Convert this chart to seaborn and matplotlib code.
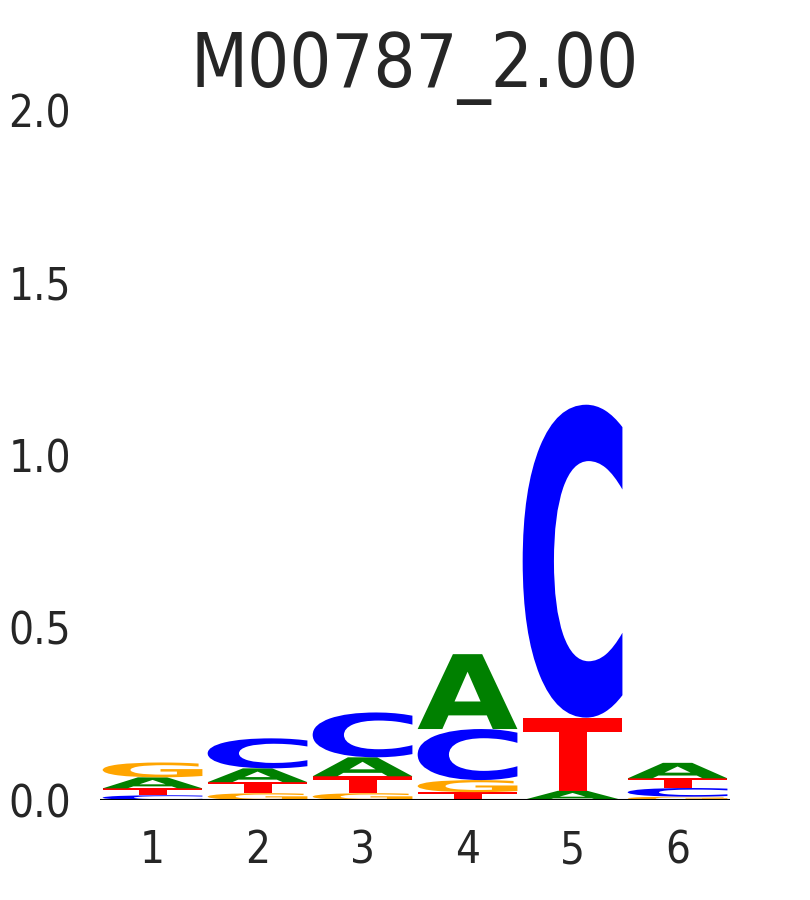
import numpy as np
import seaborn as sns
import matplotlib.pyplot as plt
from matplotlib.textpath import TextPath
from matplotlib.patches import PathPatch
from matplotlib.font_manager import FontProperties
import matplotlib.transforms as mtransforms

# motif information per position (bits)
positions = [1, 2, 3, 4, 5, 6]
bits_A = [0.032, 0.040, 0.055, 0.217, 0.027, 0.045]
bits_C = [0.014, 0.087, 0.130, 0.148, 0.907, 0.025]
bits_G = [0.043, 0.020, 0.020, 0.035, 0.000, 0.010]
bits_T = [0.020, 0.032, 0.049, 0.023, 0.212, 0.028]
title = "M00787_2.00"

colors = {"A": "green", "C": "blue", "G": "orange", "T": "red"}

sns.set_theme(style="white")
plt.rcParams["font.family"] = ["DejaVu Sans Condensed", "DejaVu Sans"]
plt.rcParams["font.stretch"] = "condensed"

fp = FontProperties(family="DejaVu Sans", weight="bold", stretch="normal")
glyphs = {k: TextPath((0, 0), k, size=1, prop=fp) for k in "ACGT"}


def draw_letter(ax, letter, x, y, h, w=0.95):
    path = glyphs[letter]
    ext = path.get_extents()
    t = (mtransforms.Affine2D()
         .translate(-ext.x0, -ext.y0)
         .scale(w / ext.width, h / ext.height)
         .translate(x - w / 2, y)) + ax.transData
    ax.add_patch(PathPatch(path, lw=0, fc=colors[letter], transform=t))


fig = plt.figure(figsize=(8.1, 9), dpi=100)
ax = fig.add_axes([0.1235, 0.111, 0.7778, 0.7667])

for i, pos in enumerate(positions):
    col = {"A": bits_A[i], "C": bits_C[i], "G": bits_G[i], "T": bits_T[i]}
    y = 0.0
    for letter, h in sorted(col.items(), key=lambda kv: kv[1]):
        if h <= 0:
            continue
        draw_letter(ax, letter, pos, y, h)
        y += h

ax.axhline(0, color="black", lw=1.5)
ax.set_xlim(0.5, 6.5)
ax.set_ylim(0, 2)
ax.set_xticks(positions)
ax.set_yticks([0.0, 0.5, 1.0, 1.5, 2.0])
ax.set_yticklabels(["0.0", "0.5", "1.0", "1.5", "2.0"])
ax.tick_params(axis="both", labelsize=31.5, length=0)
ax.tick_params(axis="x", pad=21)
ax.tick_params(axis="y", pad=21)
ax.set_title(title, fontsize=53, pad=16.5)
sns.despine(ax=ax, left=True, bottom=True)

fig.savefig("out.png", dpi=100)
